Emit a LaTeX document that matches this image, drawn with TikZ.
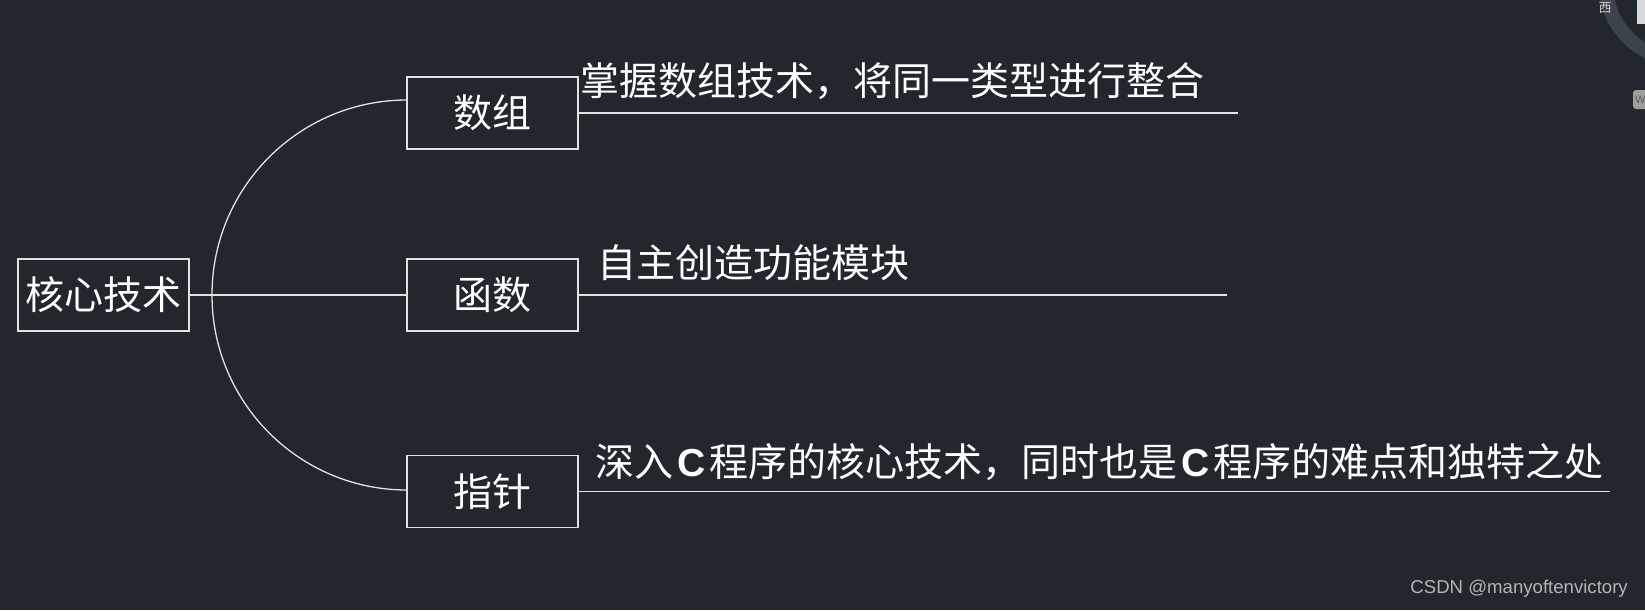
\documentclass[tikz,border=0pt]{standalone}
\usepackage{fontspec}
\setmainfont{Liberation Sans}
\newfontfamily\cjk{Noto Sans CJK SC}
\newfontfamily\latn{Liberation Sans}
\newcommand\myC{\hspace{4pt}{\latn\bfseries C}\hspace{4pt}}
\definecolor{bg}{HTML}{22272E}
\definecolor{ln}{HTML}{E2E2E2}
\definecolor{uiring}{HTML}{3D434C}
\definecolor{wm}{HTML}{B4B4B4}
\begin{document}
\begin{tikzpicture}[x=1pt,y=-1pt,
  box/.style={draw=ln, line width=1.3pt, minimum width=171pt, minimum height=72pt, inner sep=0pt, text=white, font=\cjk\fontsize{39}{44}\selectfont},
  note/.style={anchor=west, inner sep=0pt, text=white, font=\cjk\fontsize{39}{44}\selectfont},
  conn/.style={draw=ln, line width=1.3pt}]
\useasboundingbox (0,0) rectangle (1645,610);
\clip (0,0) rectangle (1645,610);
\fill[bg] (0,0) rectangle (1645,610);
% UI artifacts top-right
\draw[uiring, line width=14pt] (1680,-15) circle[radius=74pt];
\node[inner sep=0pt, text=white!80!black, font=\cjk\fontsize{13}{14}\selectfont] (xi) at (1605,8) {西};
\fill[white!85!black] (1637,0) rectangle (1646,24);
\fill[white!62!black, rounded corners=3pt] (1633,90) rectangle (1652,109);
\node[anchor=west, inner sep=0pt, text=white!35!black, font=\fontsize{11}{12}\selectfont] (wbtn) at (1635,100) {W};
% boxes
\node[box] (root) at (103.5,295) {核心技术};
\node[box] (a1) at (492.5,113) {数组};
\node[box] (a2) at (492.5,295) {函数};
\node[box] (a3) at (492.5,491.5) {指针};
% connectors
\draw[conn] (root) -- (a2);
\coordinate (top) at (407,100);
\draw[conn] (top) arc[start angle=90, end angle=270, radius=195pt];
\coordinate (e1) at (1238,113);
\coordinate (e2) at (1227,295);
\coordinate (e3) at (1610,491.5);
\draw[conn] (a1.east) -- (e1);
\draw[conn] (a2.east) -- (e2);
\draw[conn] (a3.east) -- (e3);
% notes
\node[note] (n1) at (580,81) {掌握数组技术，将同一类型进行整合};
\node[note] (n2) at (597,263) {自主创造功能模块};
\node[note] (n3) at (595,462) {深入\myC 程序的核心技术，同时也是\myC 程序的难点和独特之处};
% watermark
\node[anchor=east, inner sep=0pt, text=wm, font=\fontsize{18.6}{21}\selectfont] (wmk) at (1628,589) {CSDN @manyoftenvictory};
\end{tikzpicture}
\end{document}
